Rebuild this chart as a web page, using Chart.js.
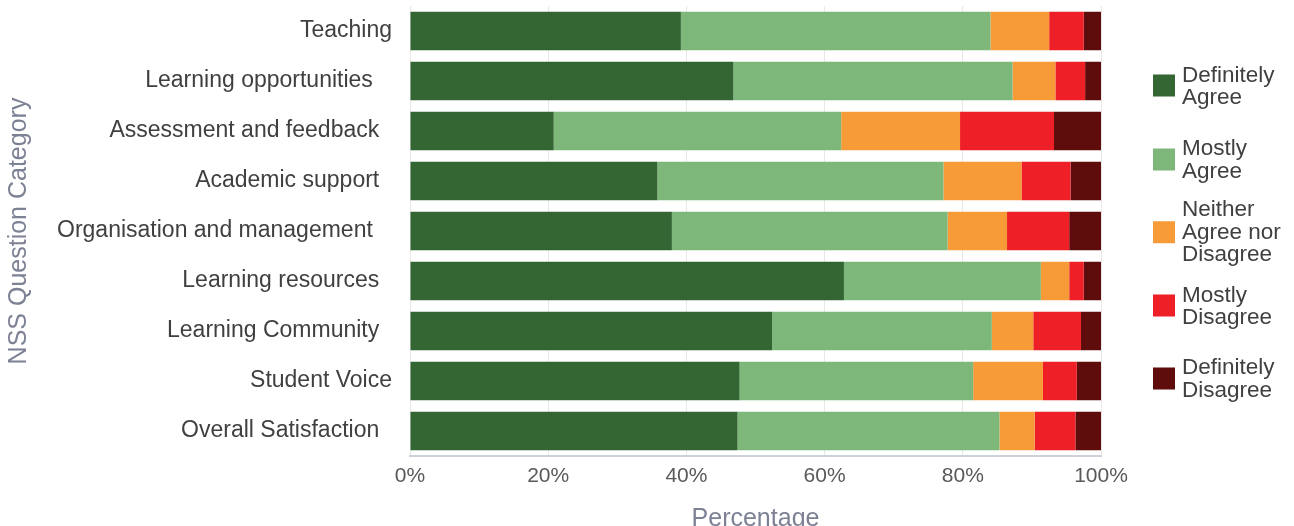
<!DOCTYPE html>
<html>
<head>
<meta charset="utf-8">
<script src="https://cdn.jsdelivr.net/npm/chart.js@4/dist/chart.umd.min.js"></script>
<style>
  html, body { margin: 0; padding: 0; background: #ffffff; overflow: hidden; }
  #wrap { position: relative; width: 1294px; height: 540px; }
  #legend { position: absolute; left: 1153px; top: 0; width: 141px; height: 526px;
            font-family: "Liberation Sans", Arial, sans-serif; font-size: 22.5px; color: #404040; }
  .item { position: absolute; left: 0; display: flex; align-items: center; transform: translateY(-50%); }
  .box { width: 22px; height: 22px; flex: none; margin-right: 7px; }
  .txt { line-height: 22.5px; white-space: nowrap; }
</style>
</head>
<body>
<div id="wrap">
  <canvas id="c" width="1294" height="540"></canvas>
  <div id="legend"></div>
</div>
<script>
const categories = [
  "Teaching",
  "Learning opportunities   ",
  "Assessment and feedback  ",
  "Academic support  ",
  "Organisation and management   ",
  "Learning resources  ",
  "Learning Community  ",
  "Student Voice",
  "Overall Satisfaction  "
];
const seriesNames = ["Definitely Agree", "Mostly Agree", "Neither Agree nor Disagree", "Mostly Disagree", "Definitely Disagree"];
const legendLines = [["Definitely", "Agree"], ["Mostly", "Agree"], ["Neither", "Agree nor", "Disagree"], ["Mostly", "Disagree"], ["Definitely", "Disagree"]];
const seriesColors = ["#336633", "#7db87a", "#f79a38", "#ee1f26", "#5f0c0c"];

const definitelyAgree    = [39.2, 46.8, 20.8, 35.8, 37.9, 62.8, 52.4, 47.7, 47.4];
const mostlyAgree        = [44.8, 40.4, 41.6, 41.4, 39.9, 28.5, 31.8, 33.8, 37.9];
const neither            = [ 8.5,  6.2, 17.2, 11.3,  8.6,  4.1,  6.0, 10.1,  5.1];
const mostlyDisagree     = [ 5.0,  4.3, 13.6,  7.1,  9.0,  2.1,  6.9,  4.9,  5.9];
const definitelyDisagree = [ 2.5,  2.3,  6.8,  4.4,  4.6,  2.5,  2.9,  3.5,  3.7];
const xTicks = [0, 20, 40, 60, 80, 100];

const seriesValues = [definitelyAgree, mostlyAgree, neither, mostlyDisagree, definitelyDisagree];

const FONT = "'Liberation Sans', Arial, sans-serif";

new Chart(document.getElementById('c'), {
  type: 'bar',
  data: {
    labels: categories,
    datasets: seriesNames.map((n, i) => ({
      label: n,
      data: seriesValues[i],
      backgroundColor: seriesColors[i],
      borderWidth: 0,
      barPercentage: 1.0,
      categoryPercentage: 0.77
    }))
  },
  options: {
    indexAxis: 'y',
    responsive: false,
    animation: false,
    layout: { padding: { left: 4, right: 193, top: 6, bottom: 0 } },
    plugins: { legend: { display: false }, tooltip: { enabled: false } },
    scales: {
      x: {
        stacked: true,
        min: 0, max: 100,
        afterBuildTicks: (s) => { s.ticks = xTicks.map(v => ({ value: v })); },
        afterFit: (s) => { s.height = 84; },
        ticks: {
          callback: (v) => v + '%',
          color: '#595959',
          font: { family: FONT, size: 21 },
          padding: 8,
          maxRotation: 0
        },
        grid: { color: '#e8e8e8', lineWidth: 1, drawTicks: false },
        border: { display: true, color: '#cdd1da', width: 2 },
        title: {
          display: true, text: 'Percentage', color: '#7c8194',
          font: { family: FONT, size: 25 },
          padding: { top: 10, bottom: 6 }
        }
      },
      y: {
        stacked: true,
        afterFit: (s) => { s.width = 406; s.paddingTop = 0; s.paddingBottom = 0; },
        ticks: {
          color: '#404040',
          font: { family: FONT, size: 23 },
          padding: 18
        },
        grid: { display: false, drawTicks: false },
        border: { display: false },
        title: {
          display: true, text: 'NSS Question Category', color: '#7c8194',
          font: { family: FONT, size: 25 },
          padding: { top: 0, bottom: 0 }
        }
      }
    }
  }
});

const legend = document.getElementById('legend');
const legendCenters = [85.5, 159, 232, 305.5, 378];
legendLines.forEach((lines, i) => {
  const item = document.createElement('div');
  item.className = 'item';
  item.style.top = legendCenters[i] + 'px';
  const box = document.createElement('div');
  box.className = 'box';
  box.style.background = seriesColors[i];
  const txt = document.createElement('div');
  txt.className = 'txt';
  txt.innerHTML = lines.join('<br>');
  item.appendChild(box);
  item.appendChild(txt);
  legend.appendChild(item);
});
</script>
</body>
</html>
